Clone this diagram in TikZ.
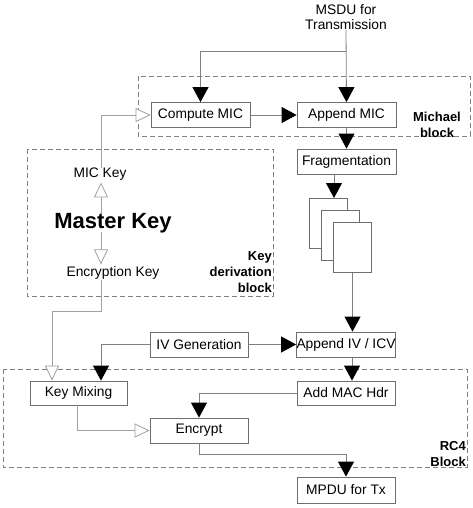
\documentclass[tikz,border=0pt]{standalone}
\usepackage{fontspec}
\setmainfont{Liberation Sans}
\usetikzlibrary{arrows.meta}
\definecolor{boxgray}{HTML}{6E6E6E}
\definecolor{linegray}{HTML}{808080}
\definecolor{keygray}{HTML}{A0A0A0}
\begin{document}
\begin{tikzpicture}[x=1pt,y=-1pt,
  box/.style={draw=boxgray,line width=0.8pt,fill=white,minimum height=25pt,inner sep=0pt,font=\fontsize{13.8}{15}\selectfont},
  page/.style={draw=boxgray,line width=0.8pt,fill=white,minimum width=38pt,minimum height=50pt,inner sep=0pt},
  conn/.style={draw=linegray,line width=0.8pt,-{Triangle[length=15pt,width=16pt,fill=black,color=black]}},
  keyconn/.style={draw=keygray,line width=0.8pt,-{Triangle[open,length=15pt,width=14pt,color=keygray,fill=white]}},
  blockrect/.style={draw=linegray,line width=0.8pt,dash pattern=on 5pt off 3pt},
  txt/.style={inner sep=0pt,font=\fontsize{13.8}{15}\selectfont},
  lbl/.style={inner sep=0pt,font=\fontsize{13}{16}\selectfont\bfseries}]
\useasboundingbox (0,0) rectangle (473,508);
% block rectangles
\draw[blockrect] (138,76) rectangle (470,136);
\draw[blockrect] (27,149) rectangle (273,296);
\draw[blockrect] (3,369) rectangle (467,467);
% labels of blocks
\node[lbl,align=center] (michael) at (437,125) {Michael\\block};
\node[lbl,align=right,anchor=east] (keyder) at (272,272) {Key\\derivation\\block};
\node[lbl,align=right,anchor=east] (rc4) at (466,454) {RC4\\Block};
% top input
\node[txt,align=center,anchor=south,font=\fontsize{13.8}{15}\selectfont] (msdu) at (346,30) {MSDU for\\Transmission};
% boxes
\node[box,minimum width=99pt] (cmic) at (200.5,115) {Compute MIC};
\node[box,minimum width=99pt] (amic) at (346.5,115) {Append MIC};
\node[box,minimum width=99pt] (frag) at (346.5,161.5) {Fragmentation};
\node[page] (p1) at (328,223) {};
\node[page] (p2) at (340.5,235) {};
\node[page] (p3) at (352.5,247.5) {};
\node[box,minimum width=98pt] (aiv) at (346,344.5) {Append IV / ICV};
\node[box,minimum width=98pt] (ivg) at (199,344.5) {IV Generation};
\node[box,minimum width=97pt,minimum height=24pt] (kmix) at (78.5,393) {Key Mixing};
\node[box,minimum width=98pt,minimum height=24pt] (amac) at (346,393) {Add MAC Hdr};
\node[box,minimum width=98pt] (enc) at (199,430.5) {Encrypt};
\node[box,minimum width=98pt,minimum height=26pt] (mpdu) at (346,490) {MPDU for Tx};
% key derivation
\node[txt] (mickey) at (100,174) {MIC Key};
\node[inner sep=0pt,font=\fontsize{22}{24}\selectfont\bfseries] (mk) at (113,223) {Master Key};
\node[txt] (enckey) at (113,273) {Encryption Key};
% coordinates
\coordinate (br) at (346,51);
\coordinate (fa) at (334,198);
\coordinate (kmbend) at (101,311);
\coordinate (encout) at (346,454);
% connectors
\draw[conn] (msdu.south) -- (amic.north);
\draw[conn,-] (br) -| (cmic.north);
\draw[conn] (cmic.north |- br) -- (cmic.north);
\draw[conn] (cmic) -- (amic);
\draw[conn] (amic) -- (frag);
\draw[conn] (frag.south -| fa) -- (fa);
\draw[conn] (p3.south) -- (p3.south |- aiv.north);
\draw[conn] (ivg) -- (aiv);
\draw[conn] (ivg.west) -| ([xshift=22.5pt]kmix.north);
\draw[conn] ([xshift=6pt]aiv.south) -- ([xshift=6pt]amac.north);
\draw[conn] (amac.west) -| (enc.north);
\draw[conn] (enc.south) |- (encout) -- (mpdu.north);
\draw[keyconn] ([xshift=-1.5pt]kmix.south) |- (enc.west);
\draw[keyconn] (mickey.north -| kmbend) |- (cmic.west);
\draw[keyconn] (enckey.south -| kmbend) -- (kmbend) -| ([xshift=-26.5pt]kmix.north);
\draw[keyconn] ([yshift=-1pt]mk.north -| kmbend) -- ([yshift=-2pt]mickey.south -| kmbend);
\draw[keyconn] ([yshift=1pt]mk.south -| kmbend) -- ([yshift=2pt]enckey.north -| kmbend);
\end{tikzpicture}
\end{document}
